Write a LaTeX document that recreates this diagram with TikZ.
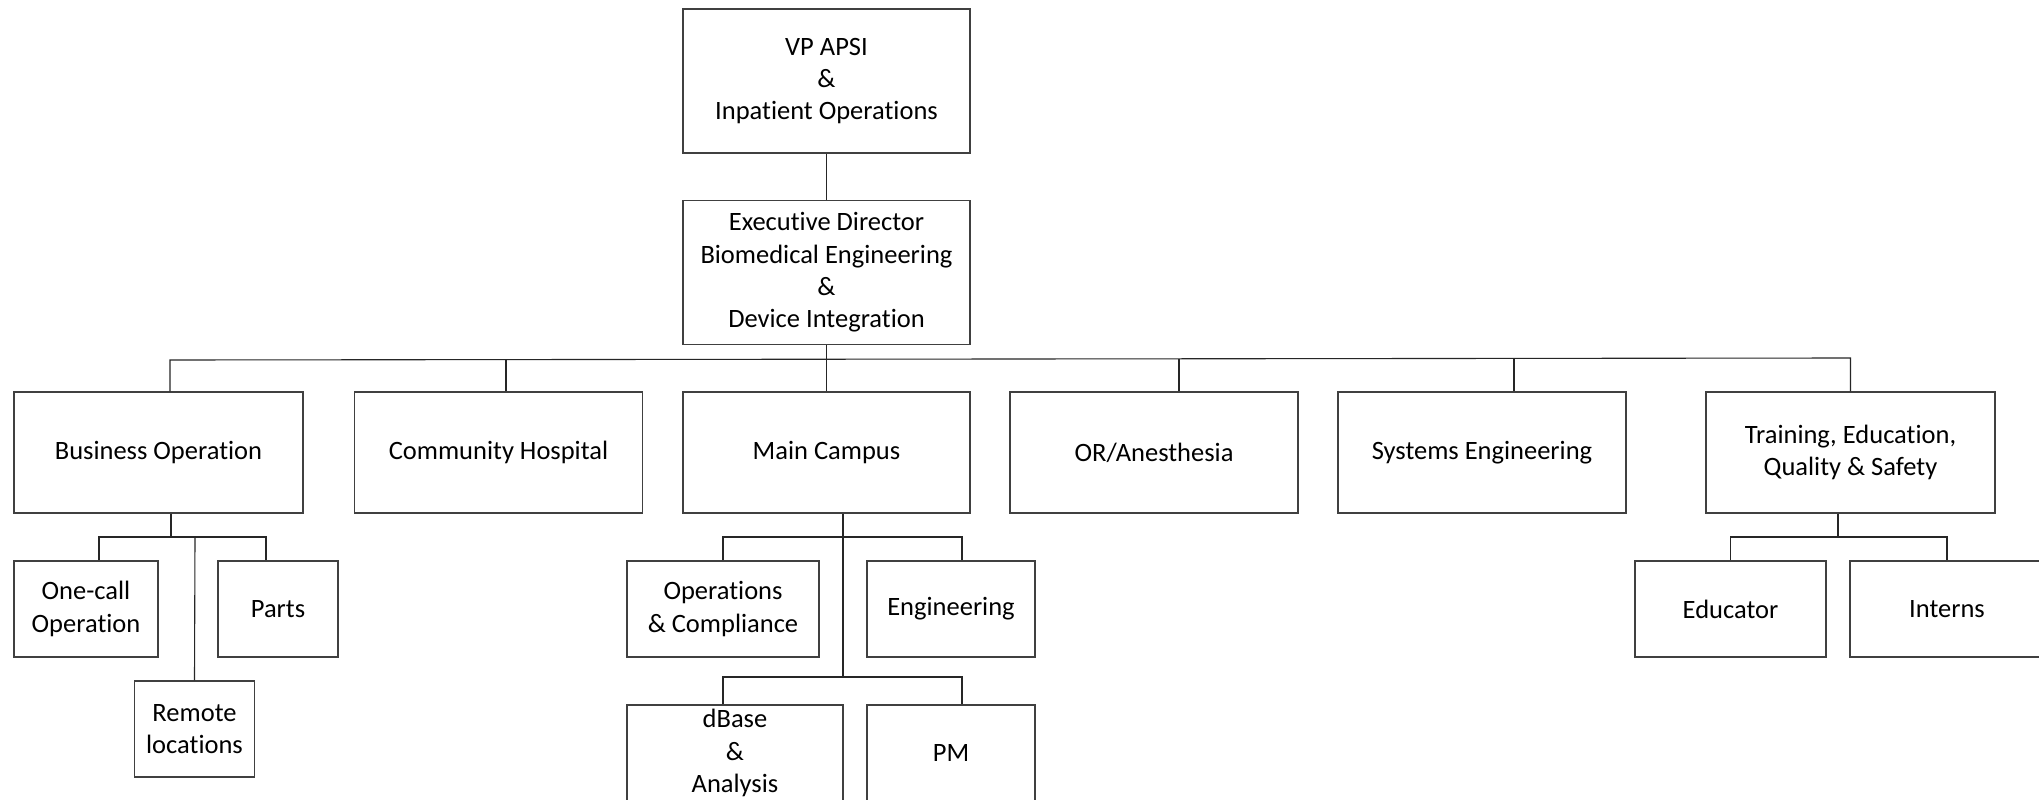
\documentclass[tikz,border=0pt]{standalone}
\usepackage{fontspec}
\setmainfont{Carlito}[Ligatures=NoCommon]
\usetikzlibrary{positioning}
\tikzset{
  unit/.style={draw=black!75, line width=1.3pt, inner sep=0pt, align=center,
    font=\fontsize{26.5}{32.4}\selectfont},
  link/.style={draw=black!85, line width=1.1pt}
}
\begin{document}
\begin{tikzpicture}[x=1pt,y=-1pt]
		%%%%% FRAME %%%%%
		\useasboundingbox[fill=white] (0,0) rectangle (2039,800);
		
		%%%%% TOP %%%%%
		\node[unit, minimum width=287, minimum height=144] (vp) at (826.5,81) {VP APSI\\\&\\Inpatient Operations};
		\node[unit, minimum width=287, minimum height=144] (exec) at (826.5,272.5) {Executive Director\\Biomedical Engineering\\\&\\Device Integration};
		
		%%%%% DEPARTMENTS %%%%%
		\node[unit, minimum width=289, minimum height=121] (busi) at (158.5,452.5) {Business Operation};
		\node[unit, minimum width=288, minimum height=121] (comm) at (498.5,452.5) {Community Hospital};
		\node[unit, minimum width=287, minimum height=121] (main) at (826.5,452.5) {Main Campus};
		\node[unit, minimum width=288, minimum height=121] (oran) at (1154,452.5) {OR/Anesthesia};
		\node[unit, minimum width=288, minimum height=121] (syst) at (1482,452.5) {Systems Engineering};
		\node[unit, minimum width=289, minimum height=121] (trai) at (1850.5,452.5) {Training, Education,\\Quality \& Safety};
		
		%%%%% TEAMS %%%%%
		\node[unit, minimum width=144, minimum height=96] (onec) at (86,609) {One-call\\Operation};
		\node[unit, minimum width=120, minimum height=96] (part) at (278,609) {Parts};
		\node[unit, minimum width=120, minimum height=96] (remo) at (194.5,729) {Remote\\locations};
		
		\node[unit, minimum width=192, minimum height=96] (opco) at (723,609) {Operations\\\& Compliance};
		\node[unit, minimum width=168, minimum height=96] (engi) at (951,609) {Engineering};
		\node[unit, minimum width=216, minimum height=96] (dbas) at (735,753) {dBase\\\&\\Analysis};
		\node[unit, minimum width=168, minimum height=96] (pm) at (951,753) {PM};
		
		\node[unit, minimum width=191, minimum height=96] (educ) at (1730.5,609) {Educator};
		\node[unit, minimum width=194, minimum height=96] (inte) at (1947,609) {Interns};
		
		%%%%% LINKS %%%%%
		\draw[link] (vp) -- (exec);
		\draw[link] (exec.south) -- (exec.south |- 0,359);
		\draw[link] (busi.north -| 170,0) -- (170,360) -- (trai.north |- 0,358) -- (trai.north);
		\draw[link] (main.north) -- (main.north |- 0,359);
		\foreach \n/\x in {comm/506, oran/1179, syst/1514}
			\draw[link] (\n.north -| \x,0) -- (\x,359);
		
		\draw[link] (busi.south -| 171,0) -- (171,537);
		\draw[link] (onec.north -| 99,0) -- (99,537) -| (part.north -| 266,0);
		\draw[link] (195,537) -- (remo.north);
		
		\draw[link] (main.south -| 843,0) -- (843,677);
		\draw[link] (opco.north) -- (723,537) -| (engi.north -| 962,0);
		\draw[link] (dbas.north -| 723,0) -- (723,677) -| (pm.north -| 962,0);
		
		\draw[link] (trai.south -| 1838,0) -- (1838,537);
		\draw[link] (educ.north) |- (inte.north |- 0,537) -- (inte.north);
		
		%%%%% END %%%%%
\end{tikzpicture}
\end{document}
